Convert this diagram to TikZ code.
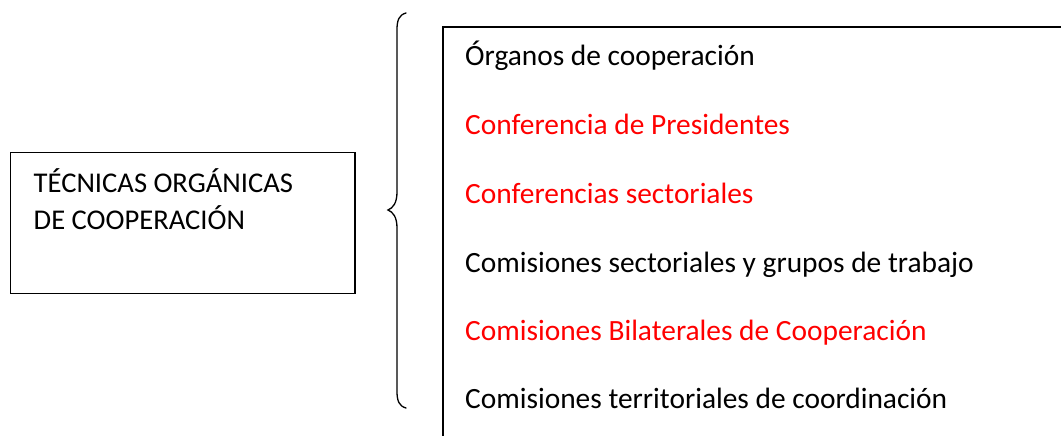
\documentclass[tikz,border=0pt]{standalone}
\usepackage{fontspec}
\setmainfont{Carlito}
\definecolor{redtxt}{RGB}{255,0,0}
\begin{document}
\begin{tikzpicture}[x=1pt,y=-1pt,
  frame/.style={draw=black,line width=1.3pt},
  item/.style={anchor=base west,inner sep=0pt,font=\fontsize{29.4}{34}\selectfont},
  hot/.style={item,text=redtxt},
  lefttxt/.style={anchor=base west,inner sep=0pt,font=\fontsize{28.6}{34}\selectfont}]
\useasboundingbox (0,0) rectangle (1061,436);
% left box
\node[frame,draw,rectangle,minimum width=344.5pt,minimum height=141pt,anchor=north west,inner sep=0pt] (lbox) at (9.7,152) {};
\node[lefttxt] (l1) at (33.5,192) {TÉCNICAS ORGÁNICAS};
\node[lefttxt] (l2) at (33.5,229) {DE COOPERACIÓN};
% brace
\draw[line width=1.3pt,line cap=round] (406,13) .. controls (399,15) and (397,20) .. (397,30)
  -- (397,192) .. controls (397,203) and (393,208) .. (388,210)
  .. controls (393,212) and (397,217) .. (397,228)
  -- (397,391) .. controls (397,401) and (399,406) .. (406,408);
% right frame (open)
\coordinate (rtr) at (1061,27);
\coordinate (rbl) at (443,436);
\draw[line width=1.3pt] (rbl) -- (443,27) -- (rtr);
% items
\node[item] (i1) at (465,66) {Órganos de cooperación};
\node[hot] (i2) at (465,135) {Conferencia de Presidentes};
\node[hot] (i3) at (465,203) {Conferencias sectoriales};
\node[item] (i4) at (465,272) {Comisiones sectoriales y grupos de trabajo};
\node[hot] (i5) at (465,340) {Comisiones Bilaterales de Cooperación};
\node[item] (i6) at (465,408) {Comisiones territoriales de coordinación};
\end{tikzpicture}
\end{document}
